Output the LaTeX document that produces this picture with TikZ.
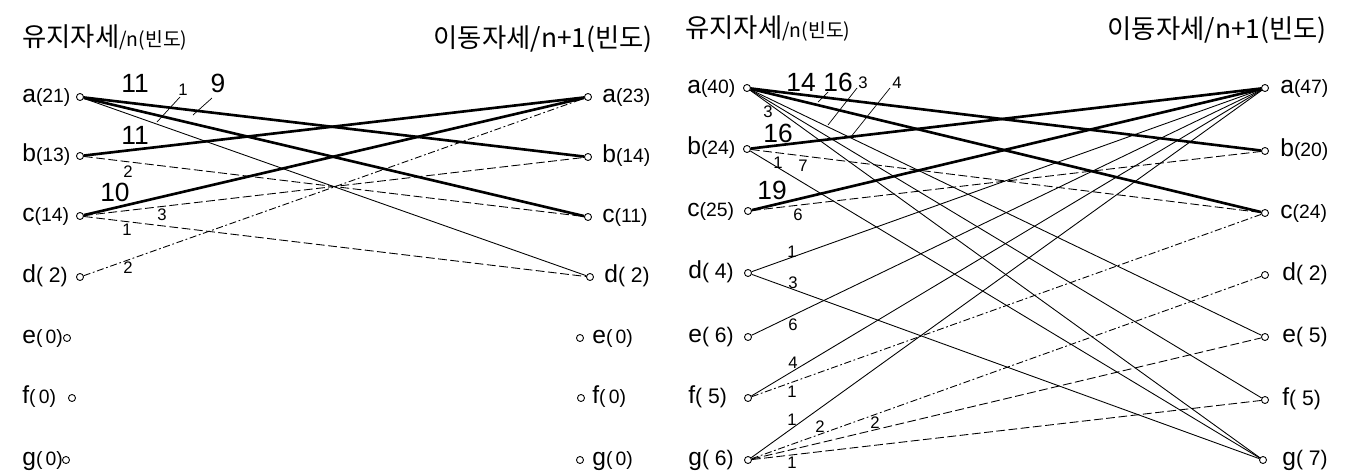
\documentclass[tikz,border=0pt]{standalone}
\usepackage{fontspec}
\setmainfont{Liberation Sans}
\newfontfamily\kr{Noto Sans CJK KR}
\usetikzlibrary{positioning}
\newcommand\cnt[1]{{\fontsize{11}{11}\selectfont(#1)}}
\newcommand\wcnt[1]{{\fontsize{12}{12}\selectfont( #1)}}
\newcommand\ncnt[1]{{\fontsize{11}{11}\selectfont(\,#1)}}

\begin{document}
\begin{tikzpicture}[x=0.02cm, y=-0.02cm,
    dot/.style={circle, draw, fill=white, line width=0.5pt, inner sep=0pt, minimum size=4pt},
    tag/.style={inner sep=0pt, anchor=base west, font=\fontsize{14}{14}\selectfont},
    big/.style={inner sep=0pt, font=\fontsize{15}{15}\selectfont},
    small/.style={inner sep=0pt, font=\fontsize{9.5}{9.5}\selectfont},
    heavy/.style={line width=1.5pt},
    light/.style={line width=0.5pt},
    broken/.style={line width=0.5pt, dash pattern=on 5pt off 2pt},
    dotdash/.style={line width=0.5pt, dash pattern=on 4pt off 1.5pt on 1pt off 1.5pt},
    leader/.style={line width=0.4pt}]
    \useasboundingbox (0,0) rectangle (1365,474);

    % Erste Tafel: Kopfzeilen
    \node[anchor=base west, inner sep=0pt] (h1) at (22,46)
        {\kr\fontsize{15}{15}\selectfont 유지자세\fontsize{11}{11}\selectfont/n(빈도)};
    \node[anchor=base east, inner sep=0pt] (h2) at (653,47)
        {\kr\fontsize{15}{15}\selectfont 이동자세/n+1(빈도)};

    % Erste Tafel: Punkte links und rechts
    \node[dot] (la1) at (80,97) {};
    \node[dot] (lb1) at (80,156) {};
    \node[dot] (lc1) at (80,216) {};
    \node[dot] (ld1) at (80,277) {};
    \node[dot] (le1) at (67,338) {};
    \node[dot] (lf1) at (72,398) {};
    \node[dot] (lg1) at (66,460) {};
    \node[dot] (ra1) at (588,97) {};
    \node[dot] (rb1) at (588,157) {};
    \node[dot] (rc1) at (588,217) {};
    \node[dot] (rd1) at (590,277) {};
    \node[dot] (re1) at (580,338) {};
    \node[dot] (rf1) at (581,398) {};
    \node[dot] (rg1) at (580,460) {};

    \node[tag] (ta1) at (22,102) {a\cnt{21}};
    \node[tag] (tb1) at (22,161) {b\cnt{13}};
    \node[tag] (tc1) at (22,221) {c\cnt{14}};
    \node[tag] (td1) at (22,282) {d\wcnt{2}};
    \node[tag] (te1) at (22,343) {e\ncnt{0}};
    \node[tag] (tf1) at (22,403) {f\ncnt{0}};
    \node[tag] (tg1) at (22,465) {g\ncnt{0}};
    \node[tag] (sa1) at (602,102) {a\cnt{23}};
    \node[tag] (sb1) at (602,162) {b\cnt{14}};
    \node[tag] (sc1) at (602,222) {c\cnt{11}};
    \node[tag] (sd1) at (604,282) {d\wcnt{2}};
    \node[tag] (se1) at (592,343) {e\ncnt{0}};
    \node[tag] (sf1) at (592,403) {f\ncnt{0}};
    \node[tag] (sg1) at (592,465) {g\ncnt{0}};

    % Erste Tafel: Verbindungen
    \draw[heavy] (la1) -- (rb1);
    \draw[heavy] (la1) -- (rc1);
    \draw[light] (la1) -- (rd1);
    \draw[heavy] (lb1) -- (ra1);
    \draw[broken] (lb1) -- (rc1);
    \draw[heavy] (lc1) -- (ra1);
    \draw[broken] (lc1) -- (rb1);
    \draw[broken] (lc1) -- (rd1);
    \draw[dotdash] (ld1) -- (ra1);

    \node[big] (w1) at (135,83) {11};
    \node[small] (w2) at (183,90) {1};
    \node[big] (w3) at (218,83) {9};
    \node[big] (w4) at (135,135) {11};
    \node[small] (w5) at (128,172) {2};
    \node[small] (w6) at (162,215) {3};
    \node[big] (w7) at (115,192) {10};
    \node[small] (w8) at (127,230) {1};
    \node[small] (w9) at (128,268) {2};
    \draw[leader] (180,97) -- (157,122);
    \draw[leader] (212,98) -- (193,115);

    % Zweite Tafel: Kopfzeilen
    \node[anchor=base west, inner sep=0pt] (h3) at (685,37)
        {\kr\fontsize{15}{15}\selectfont 유지자세\fontsize{11}{11}\selectfont/n(빈도)};
    \node[anchor=base east, inner sep=0pt] (h4) at (1327,38)
        {\kr\fontsize{15}{15}\selectfont 이동자세/n+1(빈도)};

    % Zweite Tafel: Punkte links und rechts
    \node[dot] (la2) at (747,88) {};
    \node[dot] (lb2) at (747,149) {};
    \node[dot] (lc2) at (748,211) {};
    \node[dot] (ld2) at (748,273) {};
    \node[dot] (le2) at (748,337) {};
    \node[dot] (lf2) at (748,398) {};
    \node[dot] (lg2) at (748,460) {};
    \node[dot] (ra2) at (1265,88) {};
    \node[dot] (rb2) at (1265,151) {};
    \node[dot] (rc2) at (1265,213) {};
    \node[dot] (rd2) at (1265,275) {};
    \node[dot] (re2) at (1265,337) {};
    \node[dot] (rf2) at (1265,400) {};
    \node[dot] (rg2) at (1263,460) {};

    \node[tag] (ta2) at (687,93) {a\cnt{40}};
    \node[tag] (tb2) at (687,154) {b\cnt{24}};
    \node[tag] (tc2) at (687,216) {c\cnt{25}};
    \node[tag] (td2) at (688,278) {d\wcnt{4}};
    \node[tag] (te2) at (688,342) {e\wcnt{6}};
    \node[tag] (tf2) at (688,403) {f\wcnt{5}};
    \node[tag] (tg2) at (688,465) {g\wcnt{6}};
    \node[tag] (sa2) at (1280,93) {a\cnt{47}};
    \node[tag] (sb2) at (1280,156) {b\cnt{20}};
    \node[tag] (sc2) at (1280,218) {c\cnt{24}};
    \node[tag] (sd2) at (1282,280) {d\wcnt{2}};
    \node[tag] (se2) at (1282,342) {e\wcnt{5}};
    \node[tag] (sf2) at (1282,405) {f\wcnt{5}};
    \node[tag] (sg2) at (1282,465) {g\wcnt{7}};

    % Zweite Tafel: Verbindungen
    \draw[heavy] (la2) -- (rb2);
    \draw[heavy] (la2) -- (rc2);
    \draw[light] (la2) -- (re2);
    \draw[light] (la2) -- (rf2);
    \draw[light] (la2) -- (rg2);
    \draw[heavy] (lb2) -- (ra2);
    \draw[broken] (lb2) -- (rc2);
    \draw[light] (lb2) -- (rg2);
    \draw[heavy] (lc2) -- (ra2);
    \draw[broken] (lc2) -- (rb2);
    \draw[light] (ld2) -- (ra2);
    \draw[light] (ld2) -- (rg2);
    \draw[light] (le2) -- (ra2);
    \draw[light] (lf2) -- (ra2);
    \draw[dotdash] (lf2) -- (rc2);
    \draw[light] (lg2) -- (ra2);
    \draw[dotdash] (lg2) -- (rd2);
    \draw[broken] (lg2) -- (re2);
    \draw[broken] (lg2) -- (rf2);

    \node[big] (v1) at (801,82) {14};
    \node[big] (v2) at (838,82) {16};
    \node[small] (v3) at (863,83) {3};
    \node[small] (v4) at (897,83) {4};
    \node[small] (v5) at (768,112) {3};
    \node[big] (v6) at (778,133) {16};
    \node[small] (v7) at (778,163) {1};
    \node[small] (v8) at (803,166) {7};
    \node[big] (v9) at (772,190) {19};
    \node[small] (v10) at (798,215) {6};
    \node[small] (v11) at (792,252) {1};
    \node[small] (v12) at (793,283) {3};
    \node[small] (v13) at (793,325) {6};
    \node[small] (v14) at (793,363) {4};
    \node[small] (v15) at (792,392) {1};
    \node[small] (v16) at (792,420) {1};
    \node[small] (v17) at (820,427) {2};
    \node[small] (v18) at (875,423) {2};
    \node[small] (v19) at (792,463) {1};
    \draw[leader] (828,92) -- (818,102);
    \draw[leader] (857,88) -- (828,125);
    \draw[leader] (890,88) -- (850,138);
\end{tikzpicture}
\end{document}
